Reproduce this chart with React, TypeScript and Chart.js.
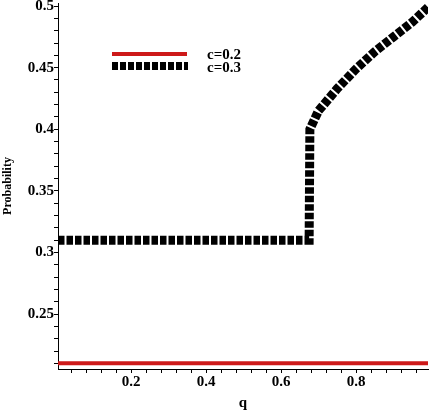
import React, { useEffect, useRef } from "react";
import { Chart, registerables } from "chart.js";

Chart.register(...registerables);

// Data
const seriesLabels = ["c=0.2", "c=0.3"];
const redX = [0.0053, 0.992];
const redY = [0.21, 0.21];
const blackX = [0.0053, 0.675, 0.677, 0.70, 0.75, 0.80, 0.85, 0.90, 0.95, 0.992];
const blackY = [0.31, 0.31, 0.40, 0.415, 0.433, 0.449, 0.463, 0.475, 0.487, 0.499];

const xMajorTicks = [0.2, 0.4, 0.6, 0.8];
const yMajorTicks = [0.25, 0.3, 0.35, 0.4, 0.45, 0.5];
const xMinorStep = 0.04;
const yMinorStep = 0.01;
const xRange = [0.0053, 0.992];
const yRange = [0.2054, 0.5025];
const xTitle = "q";
const yTitle = "Probability";

const RED = "rgb(205,25,25)";
const BLACK = "#000";
const FONT = "'Liberation Serif', 'Times New Roman', serif";

function fmt(v: number) {
  return String(parseFloat(v.toFixed(2)));
}

function buildTicks(min: number, max: number, step: number) {
  const out: { value: number }[] = [];
  const start = Math.ceil(min / step - 1e-9);
  const end = Math.floor(max / step + 1e-9);
  for (let i = start; i <= end; i++) out.push({ value: +(i * step).toFixed(4) });
  return out;
}

const overlayPlugin = {
  id: "overlay",
  afterDraw(chart: any) {
    const ctx = chart.ctx as CanvasRenderingContext2D;
    const area = chart.chartArea;
    ctx.save();
    // Legend
    ctx.lineCap = "butt";
    ctx.strokeStyle = RED;
    ctx.lineWidth = 4;
    ctx.setLineDash([]);
    ctx.beginPath();
    ctx.moveTo(112, 54);
    ctx.lineTo(187, 54);
    ctx.stroke();
    ctx.strokeStyle = BLACK;
    ctx.lineWidth = 8;
    ctx.setLineDash([6, 2]);
    ctx.beginPath();
    ctx.moveTo(112, 66);
    ctx.lineTo(188, 66);
    ctx.stroke();
    ctx.setLineDash([]);
    ctx.fillStyle = BLACK;
    ctx.font = `bold 15px ${FONT}`;
    ctx.textAlign = "left";
    ctx.textBaseline = "middle";
    ctx.fillText(seriesLabels[0], 207, 55);
    ctx.fillText(seriesLabels[1], 207, 68);
    // Axis titles
    ctx.font = `bold 15px ${FONT}`;
    ctx.textAlign = "center";
    ctx.fillText(xTitle, (area.left + area.right) / 2, 403);
    ctx.translate(8, (area.top + area.bottom) / 2);
    ctx.rotate(-Math.PI / 2);
    ctx.font = `bold 12px ${FONT}`;
    ctx.fillText(yTitle, 0, 0);
    ctx.restore();
  },
};

export default function App() {
  const ref = useRef<HTMLCanvasElement>(null);
  useEffect(() => {
    if (!ref.current) return;
    const chart = new Chart(ref.current, {
      type: "line",
      data: {
        datasets: [
          {
            label: seriesLabels[0],
            data: redX.map((x, i) => ({ x, y: redY[i] })),
            borderColor: RED,
            borderWidth: 4,
            pointRadius: 0,
            tension: 0,
          },
          {
            label: seriesLabels[1],
            data: blackX.map((x, i) => ({ x, y: blackY[i] })),
            borderColor: BLACK,
            borderWidth: 9,
            borderDash: [6.5, 2],
            borderCapStyle: "butt",
            borderJoinStyle: "miter",
            pointRadius: 0,
            tension: 0,
          },
        ],
      },
      options: {
        animation: false,
        responsive: false,
        maintainAspectRatio: false,
        layout: { padding: { top: 3, right: 7, left: 0, bottom: 0 } },
        plugins: { legend: { display: false }, tooltip: { enabled: false } },
        scales: {
          x: {
            type: "linear",
            min: xRange[0],
            max: xRange[1],
            afterBuildTicks: (s: any) => {
              s.ticks = buildTicks(xRange[0], xRange[1], xMinorStep).concat(
                xMajorTicks.map((v) => ({ value: v }))
              ).sort((a, b) => a.value - b.value).filter((t, i, arr) => i === 0 || Math.abs(t.value - arr[i - 1].value) > 1e-6);
            },
            afterFit: (s: any) => {
              s.height = 45;
              s.paddingLeft = 0;
              s.paddingRight = 0;
            },
            border: { display: true, color: BLACK, width: 1 },
            grid: { display: true, drawOnChartArea: false, drawTicks: true, tickLength: 4, color: BLACK },
            ticks: {
              autoSkip: false,
              maxRotation: 0,
              padding: 0,
              color: BLACK,
              font: { family: FONT, size: 15, weight: "bold" },
              callback: (v: any) => (xMajorTicks.some((m) => Math.abs(m - v) < 1e-6) ? fmt(v) : ""),
            },
          },
          y: {
            type: "linear",
            min: yRange[0],
            max: yRange[1],
            afterBuildTicks: (s: any) => {
              s.ticks = buildTicks(yRange[0], yRange[1], yMinorStep);
            },
            afterFit: (s: any) => {
              s.width = 58;
              s.paddingTop = 0;
              s.paddingBottom = 0;
            },
            border: { display: true, color: BLACK, width: 1 },
            grid: { display: true, drawOnChartArea: false, drawTicks: true, tickLength: 4, color: BLACK },
            ticks: {
              autoSkip: false,
              padding: 0,
              color: BLACK,
              font: { family: FONT, size: 15, weight: "bold" },
              callback: (v: any) => (yMajorTicks.some((m) => Math.abs(m - v) < 1e-6) ? fmt(v) : ""),
            },
          },
        },
      } as any,
      plugins: [overlayPlugin],
    });
    return () => chart.destroy();
  }, []);
  return (
    <div style={{ position: "fixed", left: 0, top: 0, width: 435, height: 414, background: "#fff" }}>
      <canvas ref={ref} width={435} height={414} style={{ width: 435, height: 414 }} />
    </div>
  );
}
